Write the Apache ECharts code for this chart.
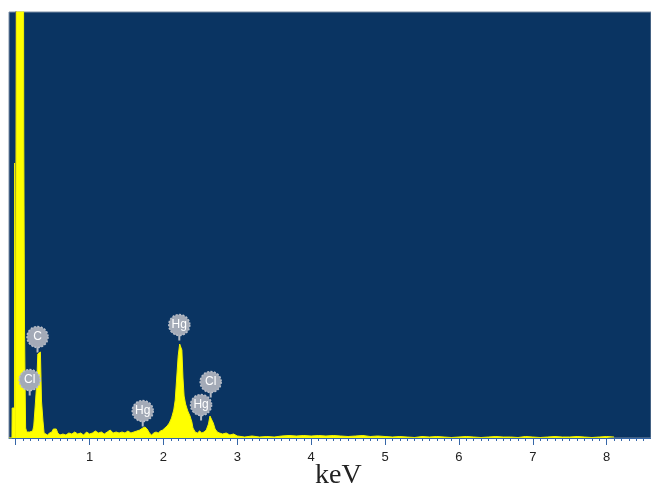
<!DOCTYPE html>
<html>
<head>
<meta charset="utf-8">
<script src="https://cdn.jsdelivr.net/npm/echarts@6/dist/echarts.min.js"></script>
<style>
  html, body { margin: 0; padding: 0; background: #fff; }
  #chart { width: 651px; height: 488px; }
</style>
</head>
<body>
<div id="chart"></div>
<script>
// energy (keV) and counts of the EDS spectrum
const energies = [
  -0.09, -0.05, -0.047, -0.016, -0.014, -0.005, -0.003, 0.015, 0.017, 0.104, 0.11, 0.12, 0.127, 0.135,
  0.15, 0.17, 0.19, 0.21, 0.23, 0.245, 0.26, 0.285, 0.30, 0.315, 0.335, 0.35, 0.37, 0.385,
  0.40, 0.43, 0.46, 0.49, 0.51, 0.53, 0.55, 0.57, 0.60, 0.64, 0.68, 0.72, 0.76, 0.80, 0.84,
  0.88, 0.92, 0.96, 1.00, 1.04, 1.08, 1.12, 1.16, 1.20, 1.24, 1.28, 1.32, 1.36, 1.40, 1.44,
  1.48, 1.52, 1.56, 1.60, 1.64, 1.68, 1.72, 1.75, 1.78, 1.81, 1.84, 1.87, 1.90, 1.93, 1.96,
  1.99, 2.02, 2.05, 2.08, 2.11, 2.14, 2.16, 2.18, 2.20, 2.22, 2.235, 2.25, 2.265, 2.28, 2.30,
  2.33, 2.36, 2.385, 2.40, 2.43, 2.46, 2.49, 2.52, 2.55, 2.58, 2.61, 2.63, 2.655, 2.675, 2.70,
  2.73, 2.76, 2.80, 2.85, 2.90, 2.95, 3.00, 3.1, 3.2, 3.3, 3.4, 3.5, 3.6, 3.7, 3.8, 3.9, 4.0,
  4.1, 4.2, 4.3, 4.4, 4.5, 4.6, 4.7, 4.8, 4.9, 5.0, 5.1, 5.2, 5.3, 5.4, 5.5, 5.6, 5.7, 5.8,
  5.9, 6.0, 6.1, 6.2, 6.3, 6.4, 6.5, 6.6, 6.7, 6.8, 6.9, 7.0, 7.1, 7.2, 7.3, 7.4, 7.5, 7.6,
  7.7, 7.8, 7.9, 8.0, 8.1, 8.2, 8.3, 8.4, 8.5, 8.6
];
const counts = [
  0, 0, 300, 300, 2750, 2750, 0, 0, 6000, 6000, 3000, 1100, 600, 100,
  60, 50, 60, 50, 70, 120, 270, 540, 840, 860, 860, 370, 170, 50,
  40, 30, 50, 60, 90, 110, 90, 50, 30, 40, 30, 50, 40, 60, 40,
  50, 30, 60, 40, 50, 70, 50, 60, 40, 60, 80, 50, 60, 50, 60,
  50, 70, 50, 60, 70, 80, 100, 110, 90, 50, 30, 50, 60, 50, 70,
  80, 100, 120, 150, 200, 280, 380, 600, 820, 940, 960, 880, 600, 420, 340,
  270, 220, 160, 100, 60, 50, 70, 50, 60, 80, 140, 220, 230, 150, 90,
  60, 50, 40, 50, 30, 40, 20, 10, 20, 10, 15, 10, 20, 25, 20, 25,
  20, 25, 20, 25, 20, 15, 20, 25, 15, 20, 15, 10, 15, 10, 5, 15,
  10, 15, 10, 5, 10, 15, 10, 5, 10, 15, 10, 10, 5, 15, 10, 5,
  10, 15, 10, 10, 15, 10, 5, 10, 15, 10
];

// element markers: name, energy of the stem tip, counts at the stem tip
const markNames = ['Cl', 'C', 'Hg', 'Hg', 'Hg', 'Cl'];
const markEnergies = [0.19, 0.296, 1.72, 2.215, 2.51, 2.64];
const markCounts = [425, 855, 115, 975, 175, 405];

const majorTicks = [0, 1, 2, 3, 4, 5, 6, 7, 8];
const tickLabels = [1, 2, 3, 4, 5, 6, 7, 8];
const minorTicks = [];
for (let i = 0; i <= 86; i++) minorTicks.push(i / 10);

const chart = echarts.init(document.getElementById('chart'));

const spectrum = energies.map((e, i) => [e, counts[i]]);
const marks = markEnergies.map((e, i) => [e, markCounts[i], markNames[i]]);

const option = {
  animation: false,
  grid: {
    left: 9,
    right: -1,
    top: 12,
    bottom: 50,
    show: true,
    backgroundColor: '#0a3462',
    borderColor: '#7d8ea5',
    borderWidth: 1,
  },
  xAxis: [
    {
      type: 'value',
      min: -0.09,
      max: 8.6,
      position: 'bottom',
      axisLine: { show: true, lineStyle: { color: '#3566a8', width: 1 } },
      axisTick: { show: true, length: 7, customValues: majorTicks, lineStyle: { color: '#3566a8' } },
      axisLabel: {
        customValues: tickLabels,
        color: '#222',
        fontSize: 13,
        fontFamily: 'Arial, Liberation Sans',
        margin: 13,
      },
      splitLine: { show: false },
    },
    {
      type: 'value',
      min: -0.09,
      max: 8.6,
      position: 'bottom',
      axisLine: { show: false },
      axisTick: { show: true, length: 3, customValues: minorTicks, lineStyle: { color: '#3566a8' } },
      axisLabel: { show: false },
      splitLine: { show: false },
    },
  ],
  yAxis: {
    type: 'value',
    min: 0,
    max: 4260,
    axisLine: { show: true, lineStyle: { color: '#5c5c5c', width: 1.5 } },
    axisTick: { show: false },
    axisLabel: { show: false },
    splitLine: { show: false },
  },
  graphic: [
    {
      type: 'text',
      left: 315,
      top: 462,
      style: {
        text: 'keV',
        font: '28px "Liberation Serif", "Times New Roman", serif',
        fill: '#222',
      },
    },
  ],
  series: [
    {
      type: 'line',
      data: spectrum,
      showSymbol: false,
      clip: true,
      lineStyle: { color: '#f2f200', width: 1 },
      areaStyle: { color: '#ffff00', opacity: 1 },
      z: 2,
    },
    {
      type: 'custom',
      data: marks,
      z: 5,
      renderItem: (params, api) => {
        const p = api.coord([api.value(0), api.value(1)])
        const r = 10.5
        const stem = 5
        const cy = p[1] - stem - r
        return {
          type: 'group',
          children: [
            {
              type: 'line',
              shape: { x1: p[0], y1: p[1], x2: p[0], y2: cy },
              style: { stroke: '#b4bac4', lineWidth: 2 },
            },
            {
              type: 'circle',
              shape: { cx: p[0], cy: cy, r: r },
              style: { fill: '#a3aab7', stroke: '#b9bec8', lineWidth: 1.5, lineDash: [2, 1.5] },
            },
            {
              type: 'text',
              style: {
                text: markNames[params.dataIndex],
                x: p[0],
                y: cy,
                align: 'center',
                verticalAlign: 'middle',
                fill: '#fff',
                font: '12px Arial, "Liberation Sans", sans-serif',
              },
            },
          ],
        }
      },
    },
  ],
};

chart.setOption(option);
</script>
</body>
</html>
